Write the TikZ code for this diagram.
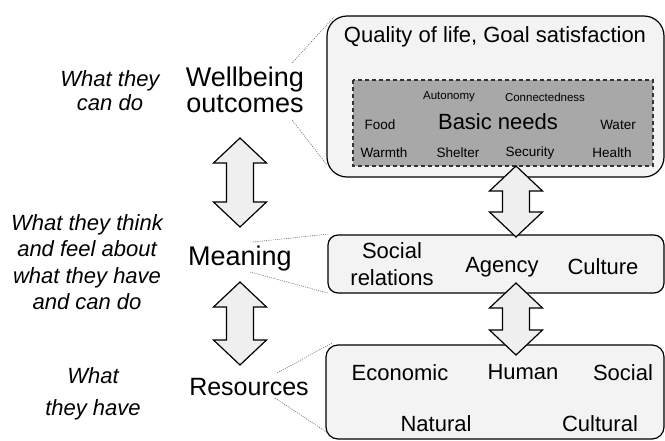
\documentclass[tikz,border=0pt]{standalone}
\usepackage{fontspec}
\setmainfont{Liberation Sans}
\usetikzlibrary{calc}
\definecolor{boxfill}{HTML}{F3F3F3}
\definecolor{needfill}{HTML}{A8A8A8}
\definecolor{arrfill}{HTML}{EFEFEF}
\definecolor{dotgray}{HTML}{666666}
\newcommand\fs[2]{\fontsize{#1}{#2}\selectfont}
\newcommand\blockarr[2]{%
  \draw[arrshape] let \p1=(#1), \p2=(#2) in
    (\p1) -- (\x1+26.5pt,\y1-25pt) -- (\x1+13.5pt,\y1-25pt)
    -- (\x1+13.5pt,\y2+25pt) -- (\x1+26.5pt,\y2+25pt) -- (\p2)
    -- (\x1-26.5pt,\y2+25pt) -- (\x1-13.5pt,\y2+25pt)
    -- (\x1-13.5pt,\y1-25pt) -- (\x1-26.5pt,\y1-25pt) -- cycle;}
\begin{document}
\begin{tikzpicture}[x=1pt,y=-1pt,
  box/.style={draw=black, line width=1.2pt, fill=boxfill, rounded corners=#1},
  needs/.style={draw=black!80, line width=1.1pt, fill=needfill, dash pattern=on 4pt off 3pt},
  arrshape/.style={draw=black, line width=1.2pt, fill=arrfill, line join=miter},
  guide/.style={draw=dotgray, line width=0.6pt, dash pattern=on 1pt off 1.2pt},
  lbl/.style={inner sep=0pt, align=center, text=black},
  side/.style={lbl, font=\fs{27}{25.5}},
  note/.style={lbl, font=\itshape\fs{22}{26.5}},
  big/.style={lbl, font=\fs{22}{27}},
  mid/.style={lbl, font=\fs{13.5}{16}},
  small/.style={lbl, font=\fs{11.5}{14}}]
\useasboundingbox (0,0) rectangle (665,440);

% boxes
\draw[box=20] (327,16) rectangle (664,177);
\draw[needs] (353,80) rectangle (653,166);
\draw[box=10] (328,235) rectangle (664,293);
\draw[box=12] (326,345) rectangle (664,439);

% top box texts
\node[big] (qol) at (495,37) {Quality of life, Goal satisfaction};
\node[small] (auto) at (449,97) {Autonomy};
\node[small] (conn) at (545,97) {Connectedness};
\node[mid] (food) at (380,125) {Food};
\node[big] (basic) at (498,122) {Basic needs};
\node[mid] (water) at (618,125) {Water};
\node[mid] (warm) at (384,153) {Warmth};
\node[mid] (shel) at (458,153) {Shelter};
\node[mid] (secu) at (530,153) {Security};
\node[mid] (heal) at (612,153) {Health};

% meaning box texts
\node[big] (socrel) at (392,264) {Social\\relations};
\node[big] (agency) at (502,267) {Agency};
\node[big] (culture) at (603,267) {Culture};

% resources box texts
\node[big] (econ) at (400,373) {Economic};
\node[big] (human) at (523,372) {Human};
\node[big] (social) at (623,373) {Social};
\node[big] (natural) at (436,424) {Natural};
\node[big] (cultural) at (600,424) {Cultural};

% side labels
\node[side] (wb) at (245,90) {Wellbeing\\outcomes};
\node[side] (mean) at (240,259) {Meaning};
\node[side, font=\fs{25}{26}] (res) at (249,387) {Resources};

% notes
\node[note, font=\itshape\fs{22}{24}] (n1) at (110,91) {What they\\can do};
\node[note] (n2) at (87,262) {What they think\\and feel about\\what they have\\and can do};
\node[note, font=\itshape\fs{22}{32}] (n3) at (93,394) {What\\they have};

% guide lines
\coordinate (g1a) at (292,63);  \coordinate (g1b) at (334,17);
\coordinate (g2a) at (292,120); \coordinate (g2b) at (327,165);
\coordinate (g3a) at (253,242); \coordinate (g3b) at (329,234);
\coordinate (g4a) at (250,272); \coordinate (g4b) at (328,293);
\coordinate (g5a) at (277,373); \coordinate (g5b) at (332,343);
\coordinate (g6a) at (275,398); \coordinate (g6b) at (328,433);
\draw[guide] (g1a) -- (g1b);
\draw[guide] (g2a) -- (g2b);
\draw[guide] (g3a) -- (g3b);
\draw[guide] (g4a) -- (g4b);
\draw[guide] (g5a) -- (g5b);
\draw[guide] (g6a) -- (g6b);

% block arrows
\coordinate (a1t) at (240,138); \coordinate (a1b) at (240,227);
\coordinate (a2t) at (240,282); \coordinate (a2b) at (240,365);
\coordinate (a3t) at (516,166); \coordinate (a3b) at (516,237);
\coordinate (a4t) at (516,283); \coordinate (a4b) at (516,355);
\blockarr{a1t}{a1b}
\blockarr{a2t}{a2b}
\blockarr{a3t}{a3b}
\blockarr{a4t}{a4b}
\end{tikzpicture}
\end{document}
